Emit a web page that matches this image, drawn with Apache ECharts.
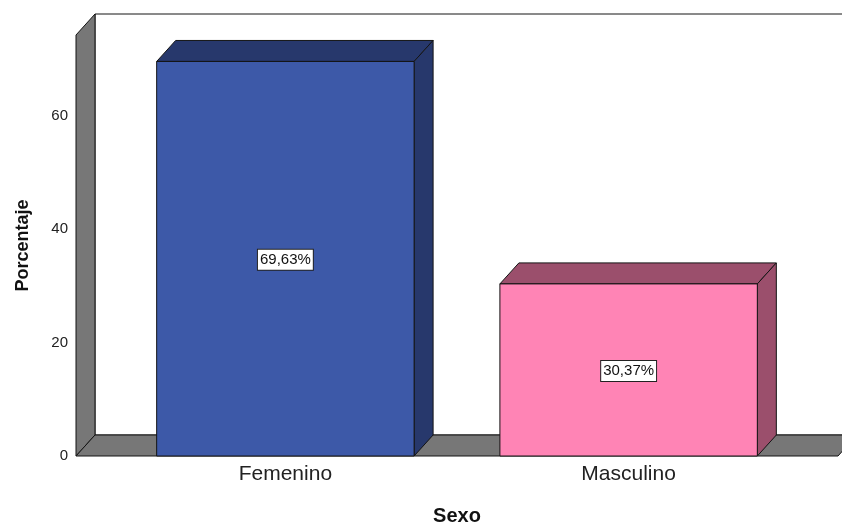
<!DOCTYPE html>
<html><head><meta charset="utf-8">
<script src="https://cdn.jsdelivr.net/npm/echarts@6/dist/echarts.min.js"></script>
<style>html,body{margin:0;padding:0;background:#fff}#c{width:842px;height:525px}</style>
</head><body><div id="c"></div>
<script>
const categories = ['Femenino', 'Masculino'];
const percentages = [69.63, 30.37];
const labelTexts = ['69,63%', '30,37%'];
const yTicks = [0, 20, 40, 60];
const barColors = [
  {front: '#3d59a8', dark: '#27386c'},
  {front: '#ff84b5', dark: '#9b4f6c'}
];
const X_MIN = 0.39, X_MAX = 2.61, Y_MAX = 74.3;
const DX = 19, DY = -21, HALF = 0.375;
const FONT = 'Arial, "Liberation Sans", sans-serif';
const STROKE = '#141414';

const chart = echarts.init(document.getElementById('c'), null, {renderer: 'canvas'});
const barData = categories.map((c, i) => [i + 1, percentages[i], i]);

function frameItem(params, api) {
  const fl = api.coord([X_MIN, 0]);
  const fr = api.coord([X_MAX, 0]);
  const tl = api.coord([X_MIN, Y_MAX]);
  const tr = api.coord([X_MAX, Y_MAX]);
  const sh = p => [p[0] + DX, p[1] + DY];
  const gray = '#777777';
  return {
    type: 'group',
    children: [
      {type: 'polygon', shape: {points: [sh(tl), sh(tr), sh(fr), sh(fl)]},
       style: {fill: '#ffffff', stroke: STROKE, lineWidth: 1}},
      {type: 'polygon', shape: {points: [tl, sh(tl), sh(fl), fl]},
       style: {fill: gray, stroke: STROKE, lineWidth: 1}},
      {type: 'polygon', shape: {points: [fl, sh(fl), sh(fr), fr]},
       style: {fill: gray, stroke: STROKE, lineWidth: 1}}
    ]
  };
}

function barItem(params, api) {
  const x = api.value(0), v = api.value(1), idx = api.value(2);
  const bl = api.coord([x - HALF, 0]);
  const br = api.coord([x + HALF, 0]);
  const tl = api.coord([x - HALF, v]);
  const tr = api.coord([x + HALF, v]);
  const sh = p => [p[0] + DX, p[1] + DY];
  const col = barColors[idx];
  const cx = (bl[0] + br[0]) / 2, cy = (bl[1] + tl[1]) / 2 + 1;
  return {
    type: 'group',
    children: [
      {type: 'polygon', shape: {points: [tl, sh(tl), sh(tr), tr]},
       style: {fill: col.dark, stroke: STROKE, lineWidth: 1}},
      {type: 'polygon', shape: {points: [tr, sh(tr), sh(br), br]},
       style: {fill: col.dark, stroke: STROKE, lineWidth: 1}},
      {type: 'rect', shape: {x: tl[0], y: tl[1], width: br[0] - bl[0], height: bl[1] - tl[1]},
       style: {fill: col.front, stroke: STROKE, lineWidth: 1}},
      {type: 'text', x: cx, y: cy,
       style: {text: labelTexts[idx], fill: '#111', font: '15px ' + FONT,
               align: 'center', verticalAlign: 'middle', lineHeight: 16,
               backgroundColor: '#fff', borderColor: '#222', borderWidth: 1,
               padding: [2, 2, 2, 2]}}
    ]
  };
}

chart.setOption({
  animation: false,
  backgroundColor: '#ffffff',
  grid: {left: 76, right: 4, top: 35, bottom: 69, containLabel: false, outerBoundsMode: 'none'},
  xAxis: {
    type: 'value', min: X_MIN, max: X_MAX,
    splitLine: {show: false}, axisLine: {show: false}, axisTick: {show: false},
    axisLabel: {customValues: [1, 2], formatter: v => categories[Math.round(v) - 1] || '',
                color: '#222', fontSize: 21, fontFamily: FONT, margin: 8},
    name: 'Sexo', nameLocation: 'middle', nameGap: 50,
    nameTextStyle: {fontWeight: 'bold', fontSize: 20, color: '#111', fontFamily: FONT}
  },
  yAxis: {
    type: 'value', min: 0, max: Y_MAX,
    splitLine: {show: false}, axisLine: {show: false}, axisTick: {show: false},
    axisLabel: {customValues: yTicks, color: '#222', fontSize: 15, fontFamily: FONT, margin: 8},
    name: 'Porcentaje', nameLocation: 'middle', nameGap: 44, nameRotate: 90,
    nameTextStyle: {fontWeight: 'bold', fontSize: 18, color: '#111', fontFamily: FONT}
  },
  series: [
    {type: 'custom', clip: false, z: 1, data: [[0]], renderItem: frameItem, silent: true},
    {type: 'custom', clip: false, z: 2, data: barData, renderItem: barItem,
     encode: {x: 0, y: 1}}
  ]
});
</script></body></html>
